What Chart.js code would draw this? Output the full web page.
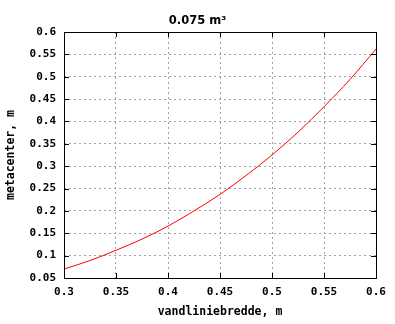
<!DOCTYPE html>
<html><head><meta charset="utf-8">
<script src="https://cdn.jsdelivr.net/npm/chart.js@4/dist/chart.umd.min.js"></script>
<style>html,body{margin:0;padding:0;background:#fff}canvas{display:block}</style>
</head><body>
<canvas id="c" width="395" height="324"></canvas>
<script>
const widths = [0.3, 0.325, 0.35, 0.375, 0.4, 0.425, 0.45, 0.475, 0.5, 0.525, 0.55, 0.575, 0.6];
const metacenter = [0.070, 0.089, 0.112, 0.137, 0.166, 0.200, 0.237, 0.279, 0.325, 0.376, 0.433, 0.494, 0.562];
const xTicks = [0.3, 0.35, 0.4, 0.45, 0.5, 0.55, 0.6];
const yTicks = [0.05, 0.1, 0.15, 0.2, 0.25, 0.3, 0.35, 0.4, 0.45, 0.5, 0.55, 0.6];
const titleText = '0.075 m³';
const xTitle = 'vandliniebredde, m';
const yTitle = 'metacenter, m';

const mono = 'DejaVu Sans Mono';
const fmt = v => String(+(+v).toFixed(3));

const framePlugin = {
  id: 'frame',
  afterDatasetsDraw(chart) {
    const {ctx, chartArea: a, scales} = chart;
    ctx.save();
    ctx.strokeStyle = '#000';
    ctx.lineWidth = 1;
    ctx.setLineDash([]);
    ctx.beginPath();
    const L = 5;
    xTicks.forEach(v => {
      const px = Math.round(scales.x.getPixelForValue(v)) + 0.5;
      ctx.moveTo(px, a.bottom); ctx.lineTo(px, a.bottom - L);
      ctx.moveTo(px, a.top); ctx.lineTo(px, a.top + L);
    });
    yTicks.forEach(v => {
      const py = Math.round(scales.y.getPixelForValue(v)) + 0.5;
      ctx.moveTo(a.left, py); ctx.lineTo(a.left + L, py);
      ctx.moveTo(a.right, py); ctx.lineTo(a.right - L, py);
    });
    ctx.stroke();
    ctx.strokeRect(Math.round(a.left) + 0.5, Math.round(a.top) + 0.5,
                   Math.round(a.right - a.left), Math.round(a.bottom - a.top));
    ctx.restore();
  }
};

new Chart(document.getElementById('c'), {
  type: 'line',
  data: {
    datasets: [{
      data: widths.map((w, i) => ({x: w, y: metacenter[i]})),
      borderColor: '#ff0000',
      borderWidth: 1,
      pointRadius: 0,
      cubicInterpolationMode: 'monotone',
      fill: false
    }]
  },
  options: {
    responsive: false,
    animation: false,
    devicePixelRatio: 1,
    layout: {padding: 0},
    plugins: {
      legend: {display: false},
      tooltip: {enabled: false},
      title: {
        display: true,
        text: titleText,
        color: '#000',
        font: {family: 'DejaVu Sans', size: 11.5, weight: 'bold'},
        padding: {top: 14, bottom: 4.2}
      }
    },
    scales: {
      x: {
        type: 'linear',
        min: 0.3, max: 0.6,
        afterBuildTicks: s => { s.ticks = xTicks.map(v => ({value: v})); },
        afterFit: s => { s.height = 46; },
        ticks: {
          color: '#000', padding: 8, maxRotation: 0, autoSkip: false,
          font: {family: mono, size: 11, weight: 'bold'},
          callback: v => fmt(v)
        },
        grid: {color: '#a0a0a0', drawTicks: false, lineWidth: 1},
        border: {display: false, dash: [2, 3]},
        title: {
          display: true, text: xTitle, color: '#000',
          font: {family: mono, size: 11.5, weight: 'bold'},
          padding: {top: 0, bottom: 5}
        }
      },
      y: {
        type: 'linear',
        min: 0.05, max: 0.6,
        afterBuildTicks: s => { s.ticks = yTicks.map(v => ({value: v})); },
        afterFit: s => { s.width = 64; },
        ticks: {
          color: '#000', padding: 8, autoSkip: false,
          font: {family: mono, size: 11, weight: 'bold'},
          callback: v => fmt(v)
        },
        grid: {color: '#a0a0a0', drawTicks: false, lineWidth: 1},
        border: {display: false, dash: [2, 3]},
        title: {
          display: true, text: yTitle, color: '#000',
          font: {family: mono, size: 11.5, weight: 'bold'},
          padding: {top: 4, bottom: 0}
        }
      },
      y2: {
        type: 'linear',
        position: 'right',
        min: 0.05, max: 0.6,
        display: true,
        afterFit: s => { s.width = 19; },
        ticks: {display: false},
        grid: {display: false, drawTicks: false},
        border: {display: false}
      }
    }
  },
  plugins: [framePlugin]
});
</script>
</body></html>
